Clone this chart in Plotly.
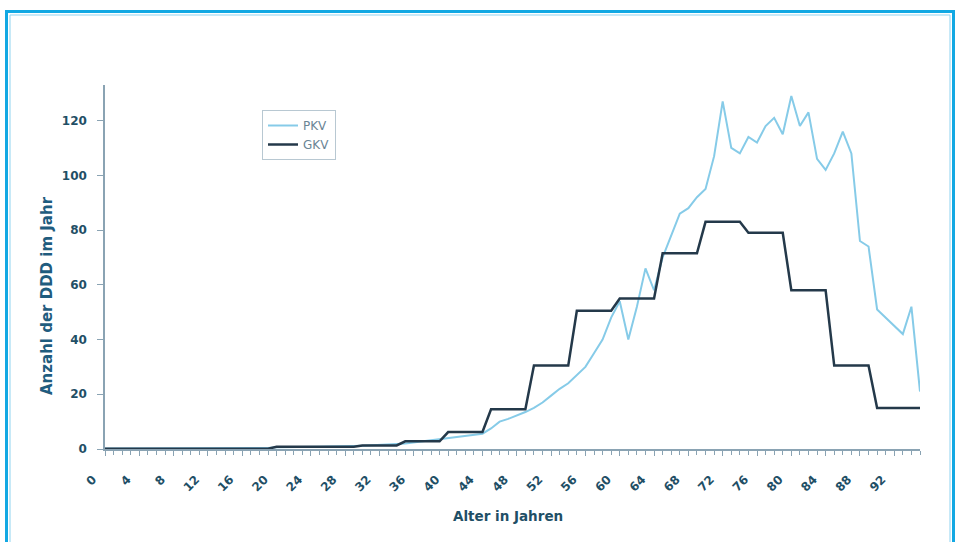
import plotly.graph_objects as go

# ---------------- data ----------------
ages = list(range(0, 96))

# GKV: values per age group (start age of group, value)
gkv_group_start = [0, 20, 30, 35, 40, 45, 50, 55, 60, 65, 70, 75, 80, 85, 90]
gkv_group_value = [0.1, 0.8, 1.3, 2.8, 6.2, 14.5, 30.5, 50.5, 55, 71.5, 83, 79, 58, 30.5, 15]

# PKV: yearly values
pkv_values = [
    0.2, 0.2, 0.2, 0.2, 0.2, 0.2, 0.2, 0.2, 0.2, 0.2,      # 0-9
    0.2, 0.2, 0.2, 0.3, 0.3, 0.3, 0.3, 0.3, 0.4, 0.4,      # 10-19
    0.6, 0.6, 0.7, 0.7, 0.8, 0.8, 0.9, 0.9, 1.0, 1.1,      # 20-29
    1.2, 1.3, 1.5, 1.6, 1.8, 2.0, 2.4, 2.8, 3.1, 3.4,      # 30-39
    3.8, 4.2, 4.6, 5.2, 5.6, 7.5, 10, 11, 12.2, 13.5,      # 40-49
    15, 17, 19.5, 22, 24, 27, 30, 35, 40, 48,             # 50-59
    54, 40, 52, 66, 58, 70, 78, 86, 88, 92,               # 60-69
    95, 107, 127, 110, 108, 114, 112, 118, 121, 115,      # 70-79
    129, 118, 123, 106, 102, 108, 116, 108, 76, 74,       # 80-89
    51, 48, 45, 42, 52, 21,                               # 90-95
]

x_tick_vals = list(range(0, 96, 4))
x_tick_text = [str(v) for v in x_tick_vals]
y_tick_vals = [0, 20, 40, 60, 80, 100, 120]

# expand GKV groups to yearly points
gkv_values = []
for a in ages:
    v = gkv_group_value[0]
    for s, gv in zip(gkv_group_start, gkv_group_value):
        if a >= s:
            v = gv
    gkv_values.append(v)

# ---------------- layout geometry ----------------
W, H = 961, 542
L, R, T, B = 105, 41, 85, 93
pw, ph = W - L - R, H - T - B


def px(xp):
    return (xp - L) / pw


def py(yp):
    return (H - B - yp) / ph


TXT = "#1f4f66"
AX = "#8aa3b3"
FONT = "DejaVu Sans, Liberation Sans, Arial, sans-serif"

fig = go.Figure()
fig.add_trace(go.Scatter(
    x=ages, y=pkv_values, name="PKV", mode="lines",
    line=dict(color="#86cbe8", width=2),
))
fig.add_trace(go.Scatter(
    x=ages, y=gkv_values, name="GKV", mode="lines",
    line=dict(color="#24394a", width=2.5),
))

fig.update_layout(
    width=W, height=H,
    margin=dict(l=L, r=R, t=T, b=B, autoexpand=False),
    paper_bgcolor="white", plot_bgcolor="white",
    font=dict(family=FONT, color=TXT),
    showlegend=True,
    legend=dict(
        x=px(262), y=py(110), xanchor="left", yanchor="top",
        bgcolor="white", bordercolor="#b8c8d2", borderwidth=1,
        font=dict(family=FONT, size=12, color="#6a8595"),
        itemwidth=30, tracegroupgap=2,
    ),
    xaxis=dict(
        range=[0, 95], showgrid=False, zeroline=False,
        showline=True, linecolor=AX, linewidth=1.5,
        tickmode="array", tickvals=x_tick_vals, ticktext=x_tick_text,
        ticks="outside", ticklen=5, tickcolor=AX, tickwidth=1,
        tickangle=-45,
        tickfont=dict(family=FONT, size=12, color=TXT, weight="bold"),
        ticklabelstandoff=12, ticklabelshift=-12,
        minor=dict(dtick=1, ticks="outside", ticklen=4, tickcolor=AX, tickwidth=1),
    ),
    yaxis=dict(
        range=[0, 133], showgrid=False, zeroline=False,
        showline=True, linecolor=AX, linewidth=1.5,
        tickmode="array", tickvals=y_tick_vals,
        ticks="outside", ticklen=6, tickcolor=AX, tickwidth=1,
        tickfont=dict(family=FONT, size=12, color=TXT, weight="bold"),
        ticklabelstandoff=8,
    ),
    annotations=[
        dict(text="Anzahl der DDD im Jahr", xref="paper", yref="paper",
             x=px(47), y=py(295), textangle=-90, showarrow=False,
             font=dict(family=FONT, size=15, color="#1f5c7e", weight="bold"),
             xanchor="center", yanchor="middle"),
        dict(text="Alter in Jahren", xref="paper", yref="paper",
             x=px(508), y=py(516), showarrow=False,
             font=dict(family=FONT, size=13.5, color=TXT, weight="bold"),
             xanchor="center", yanchor="middle"),
    ],
    shapes=[
        dict(type="rect", xref="paper", yref="paper",
             x0=px(6.5), x1=px(953.5), y0=py(560), y1=py(11.5),
             line=dict(color="#12a8e3", width=3), fillcolor="rgba(0,0,0,0)",
             layer="above"),
        dict(type="rect", xref="paper", yref="paper",
             x0=px(10), x1=px(950), y0=py(560), y1=py(15),
             line=dict(color="#8fd3f0", width=1), fillcolor="rgba(0,0,0,0)",
             layer="above"),
    ],
)

fig.write_html(
    "out.html",
    config={"displayModeBar": False},
    post_script="document.body.style.margin='0';document.body.style.overflow='hidden';",
)
